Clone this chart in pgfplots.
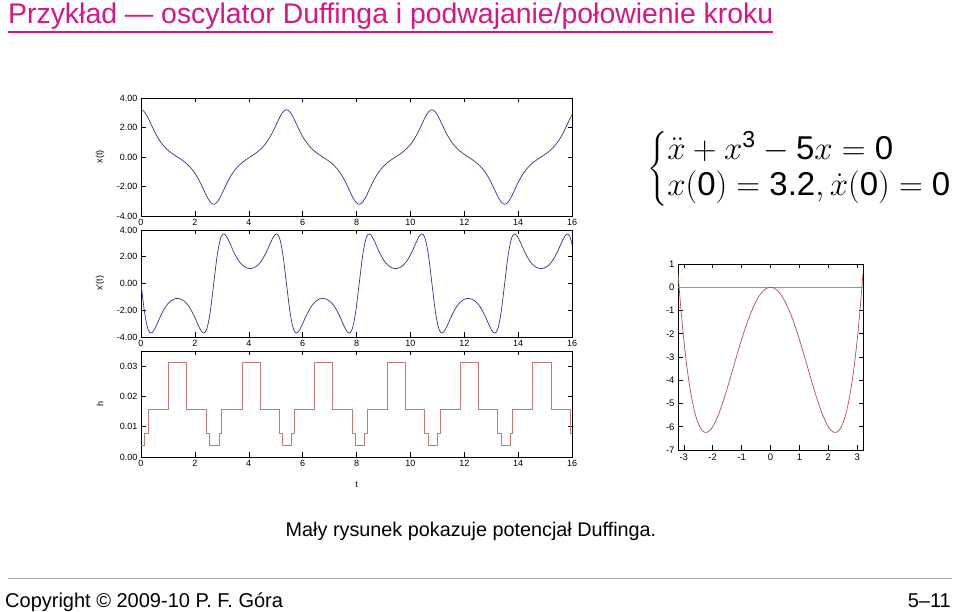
\RequirePackage{fix-cm}
\documentclass[border=0pt]{standalone}
\usepackage{amsmath}
\usepackage{fontspec}
\setmainfont{Liberation Sans}
\usepackage{pgfplots}
\usepackage{pgfplotstable}
\pgfplotsset{compat=1.18}

\definecolor{titlemag}{RGB}{214,22,134}
\definecolor{xblue}{RGB}{50,50,160}
\definecolor{hred}{RGB}{200,120,120}
\definecolor{vred}{RGB}{180,80,80}
\definecolor{vgreen}{RGB}{80,200,80}

\pgfplotstableread{
t x v
0.000 3.200 0.00
0.050 3.179 -0.84
0.105 3.100 -1.76
0.151 3.000 -2.39
0.219 2.800 -3.11
0.276 2.600 -3.49
0.328 2.400 -3.67
0.379 2.200 -3.70
0.430 2.000 -3.64
0.482 1.800 -3.49
0.537 1.600 -3.28
0.598 1.400 -3.02
0.663 1.200 -2.72
0.736 1.000 -2.39
0.821 0.800 -2.06
0.920 0.600 -1.72
1.041 0.400 -1.42
1.186 0.200 -1.20
1.350 0.000 -1.11
1.514 -0.200 -1.20
1.659 -0.400 -1.42
1.780 -0.600 -1.72
1.879 -0.800 -2.06
1.964 -1.000 -2.39
2.037 -1.200 -2.72
2.102 -1.400 -3.02
2.163 -1.600 -3.28
2.218 -1.800 -3.49
2.270 -2.000 -3.64
2.321 -2.200 -3.70
2.372 -2.400 -3.67
2.424 -2.600 -3.49
2.481 -2.800 -3.11
2.549 -3.000 -2.39
2.595 -3.100 -1.76
2.650 -3.179 -0.84
2.700 -3.200 0.00
2.750 -3.179 0.84
2.805 -3.100 1.76
2.851 -3.000 2.39
2.919 -2.800 3.11
2.976 -2.600 3.49
3.028 -2.400 3.67
3.079 -2.200 3.70
3.130 -2.000 3.64
3.182 -1.800 3.49
3.237 -1.600 3.28
3.298 -1.400 3.02
3.363 -1.200 2.72
3.436 -1.000 2.39
3.521 -0.800 2.06
3.620 -0.600 1.72
3.741 -0.400 1.42
3.886 -0.200 1.20
4.050 0.000 1.11
4.214 0.200 1.20
4.359 0.400 1.42
4.480 0.600 1.72
4.579 0.800 2.06
4.664 1.000 2.39
4.737 1.200 2.72
4.802 1.400 3.02
4.863 1.600 3.28
4.918 1.800 3.49
4.970 2.000 3.64
5.021 2.200 3.70
5.072 2.400 3.67
5.124 2.600 3.49
5.181 2.800 3.11
5.249 3.000 2.39
5.295 3.100 1.76
5.350 3.179 0.84
5.400 3.200 0.00
5.450 3.179 -0.84
5.505 3.100 -1.76
5.551 3.000 -2.39
5.619 2.800 -3.11
5.676 2.600 -3.49
5.728 2.400 -3.67
5.779 2.200 -3.70
5.830 2.000 -3.64
5.882 1.800 -3.49
5.937 1.600 -3.28
5.998 1.400 -3.02
6.063 1.200 -2.72
6.136 1.000 -2.39
6.221 0.800 -2.06
6.320 0.600 -1.72
6.441 0.400 -1.42
6.586 0.200 -1.20
6.750 0.000 -1.11
6.914 -0.200 -1.20
7.059 -0.400 -1.42
7.180 -0.600 -1.72
7.279 -0.800 -2.06
7.364 -1.000 -2.39
7.437 -1.200 -2.72
7.502 -1.400 -3.02
7.563 -1.600 -3.28
7.618 -1.800 -3.49
7.670 -2.000 -3.64
7.721 -2.200 -3.70
7.772 -2.400 -3.67
7.824 -2.600 -3.49
7.881 -2.800 -3.11
7.949 -3.000 -2.39
7.995 -3.100 -1.76
8.050 -3.179 -0.84
8.100 -3.200 0.00
8.150 -3.179 0.84
8.205 -3.100 1.76
8.251 -3.000 2.39
8.319 -2.800 3.11
8.376 -2.600 3.49
8.428 -2.400 3.67
8.479 -2.200 3.70
8.530 -2.000 3.64
8.582 -1.800 3.49
8.637 -1.600 3.28
8.698 -1.400 3.02
8.763 -1.200 2.72
8.836 -1.000 2.39
8.921 -0.800 2.06
9.020 -0.600 1.72
9.141 -0.400 1.42
9.286 -0.200 1.20
9.450 0.000 1.11
9.614 0.200 1.20
9.759 0.400 1.42
9.880 0.600 1.72
9.979 0.800 2.06
10.064 1.000 2.39
10.137 1.200 2.72
10.202 1.400 3.02
10.263 1.600 3.28
10.318 1.800 3.49
10.370 2.000 3.64
10.421 2.200 3.70
10.472 2.400 3.67
10.524 2.600 3.49
10.581 2.800 3.11
10.649 3.000 2.39
10.695 3.100 1.76
10.750 3.179 0.84
10.800 3.200 0.00
10.850 3.179 -0.84
10.905 3.100 -1.76
10.951 3.000 -2.39
11.019 2.800 -3.11
11.076 2.600 -3.49
11.128 2.400 -3.67
11.179 2.200 -3.70
11.230 2.000 -3.64
11.282 1.800 -3.49
11.337 1.600 -3.28
11.398 1.400 -3.02
11.463 1.200 -2.72
11.536 1.000 -2.39
11.621 0.800 -2.06
11.720 0.600 -1.72
11.841 0.400 -1.42
11.986 0.200 -1.20
12.150 0.000 -1.11
12.314 -0.200 -1.20
12.459 -0.400 -1.42
12.580 -0.600 -1.72
12.679 -0.800 -2.06
12.764 -1.000 -2.39
12.837 -1.200 -2.72
12.902 -1.400 -3.02
12.963 -1.600 -3.28
13.018 -1.800 -3.49
13.070 -2.000 -3.64
13.121 -2.200 -3.70
13.172 -2.400 -3.67
13.224 -2.600 -3.49
13.281 -2.800 -3.11
13.349 -3.000 -2.39
13.395 -3.100 -1.76
13.450 -3.179 -0.84
13.500 -3.200 0.00
13.550 -3.179 0.84
13.605 -3.100 1.76
13.651 -3.000 2.39
13.719 -2.800 3.11
13.776 -2.600 3.49
13.828 -2.400 3.67
13.879 -2.200 3.70
13.930 -2.000 3.64
13.982 -1.800 3.49
14.037 -1.600 3.28
14.098 -1.400 3.02
14.163 -1.200 2.72
14.236 -1.000 2.39
14.321 -0.800 2.06
14.420 -0.600 1.72
14.541 -0.400 1.42
14.686 -0.200 1.20
14.850 0.000 1.11
15.014 0.200 1.20
15.159 0.400 1.42
15.280 0.600 1.72
15.379 0.800 2.06
15.464 1.000 2.39
15.537 1.200 2.72
15.602 1.400 3.02
15.663 1.600 3.28
15.718 1.800 3.49
15.770 2.000 3.64
15.821 2.200 3.70
15.872 2.400 3.67
15.924 2.600 3.49
15.981 2.800 3.11
16.049 3.000 2.39
}\duffing

\pgfplotstableread{
t h
0.00 0.00390625
0.14 0.0078125
0.27 0.015625
1.03 0.03125
1.70 0.015625
2.44 0.0078125
2.55 0.00390625
2.90 0.0078125
2.99 0.015625
3.75 0.03125
4.42 0.015625
5.12 0.0078125
5.23 0.00390625
5.57 0.0078125
5.68 0.015625
6.45 0.03125
7.12 0.015625
7.83 0.0078125
7.96 0.00390625
8.29 0.0078125
8.40 0.015625
9.14 0.03125
9.81 0.015625
10.53 0.0078125
10.65 0.00390625
10.99 0.0078125
11.10 0.015625
11.84 0.03125
12.54 0.015625
13.24 0.0078125
13.36 0.00390625
13.70 0.0078125
13.80 0.015625
14.54 0.03125
15.23 0.015625
15.92 0.0078125
16.00 0.0078125
}\steps

\pgfplotstableread{
x V
-3.2 0.614
-3.1 -0.937
-3.0 -2.250
-2.9 -3.343
-2.8 -4.234
-2.7 -4.939
-2.6 -5.476
-2.5 -5.859
-2.4 -6.106
-2.3 -6.229
-2.2 -6.244
-2.1 -6.163
-2.0 -6.000
-1.9 -5.767
-1.8 -5.476
-1.7 -5.137
-1.6 -4.762
-1.5 -4.359
-1.4 -3.940
-1.3 -3.511
-1.2 -3.082
-1.1 -2.659
-1.0 -2.250
-0.9 -1.861
-0.8 -1.498
-0.7 -1.165
-0.6 -0.868
-0.5 -0.609
-0.4 -0.394
-0.3 -0.223
-0.2 -0.100
-0.1 -0.025
0.0 0.000
0.1 -0.025
0.2 -0.100
0.3 -0.223
0.4 -0.394
0.5 -0.609
0.6 -0.868
0.7 -1.165
0.8 -1.498
0.9 -1.861
1.0 -2.250
1.1 -2.659
1.2 -3.082
1.3 -3.511
1.4 -3.940
1.5 -4.359
1.6 -4.762
1.7 -5.137
1.8 -5.476
1.9 -5.767
2.0 -6.000
2.1 -6.163
2.2 -6.244
2.3 -6.229
2.4 -6.106
2.5 -5.859
2.6 -5.476
2.7 -4.939
2.8 -4.234
2.9 -3.343
3.0 -2.250
3.1 -0.937
3.2 0.614
}\potential

\pgfplotsset{
  gp/.style={
    scale only axis,
    /pgf/number format/assume math mode=true,
    tick align=inside,
    major tick length=4.5pt,
    tick style={black, line width=0.5pt},
    axis line style={black, line width=0.6pt},
    tick label style={font=\fontsize{9}{10}\selectfont},
    label style={font=\fontsize{9}{10}\selectfont},
    xtick pos=both, ytick pos=both,
    xticklabel pos=lower, yticklabel pos=left,
  },
  tplot/.style={
    gp,
    width=431pt,
    xmin=0, xmax=16,
    xtick={0,2,...,16},
    yticklabel style={/pgf/number format/.cd, fixed, fixed zerofill, precision=2},
    ylabel style={at={(axis description cs:-0.095,0.5)}, anchor=center},
  },
}

\begin{document}
\begin{tikzpicture}
\useasboundingbox (0pt,0pt) rectangle (960pt,612pt);

% title
\node[anchor=base west, inner sep=0pt, text=titlemag, font=\fontsize{28.4}{33}\selectfont] at (8pt,588pt) {Przykład — oscylator Duffinga i podwajanie/połowienie kroku};
\draw[titlemag, line width=1.2pt] (8pt,580pt) -- (773pt,580pt);

% x(t)
\begin{axis}[tplot, at={(141pt,396pt)}, anchor=south west, height=118pt,
  ymin=-4, ymax=4, ytick={-4,-2,0,2,4}, ylabel={x(t)}]
\addplot[xblue, line width=0.7pt, smooth] table[x=t, y=x]{\duffing};
\end{axis}

% x'(t)
\begin{axis}[tplot, at={(141pt,275pt)}, anchor=south west, height=107pt,
  ymin=-4, ymax=4, ytick={-4,-2,0,2,4}, ylabel={x'(t)}]
\addplot[xblue, line width=0.7pt, smooth] table[x=t, y=v]{\duffing};
\end{axis}

% h(t)
\begin{axis}[tplot, at={(141pt,155pt)}, anchor=south west, height=106pt,
  ymin=0, ymax=0.035, ytick={0,0.01,0.02,0.03},
  scaled y ticks=false,
  ylabel={h}, xlabel={t},
  xlabel style={at={(axis description cs:0.5,-0.26)}, anchor=center}]
\addplot[hred, line width=0.7pt, const plot] table[x=t, y=h]{\steps};
\end{axis}

% potential
\begin{axis}[gp, at={(678pt,162pt)}, anchor=south west, width=185pt, height=186pt,
  xmin=-3.2, xmax=3.2, ymin=-7, ymax=1,
  xtick={-3,-2,-1,0,1,2,3}, ytick={-7,-6,-5,-4,-3,-2,-1,0,1},
  tick label style={font=\fontsize{9.5}{11}\selectfont}]
\addplot[vgreen, line width=1pt] coordinates {(-3.2,0) (3.2,0)};
\addplot[vred, line width=0.7pt, smooth] table[x=x, y=V]{\potential};
\end{axis}

% equation
\node[anchor=west, inner sep=0pt, font=\fontsize{33}{40}\selectfont] at (647pt,443pt)
 {\renewcommand{\arraystretch}{0.92}$\left\{\begin{array}{@{}l@{}}
   \ddot{x} + x^{\text{3}} - \text{5}x = \text{0}\\
   x(\text{0}) = \text{3.2}, \dot{x}(\text{0}) = \text{0}
  \end{array}\right.$};

% caption
\node[anchor=base, inner sep=0pt, font=\fontsize{19.8}{23}\selectfont] at (471pt,75pt) {Mały rysunek pokazuje potencjał Duffinga.};

% footer
\draw[gray!70, line width=0.8pt] (8pt,34pt) -- (952pt,34pt);
\node[anchor=base west, inner sep=0pt, font=\fontsize{20}{24}\selectfont] at (5pt,4pt) {Copyright \textcopyright{} 2009-10 P. F. Góra};
\node[anchor=base east, inner sep=0pt, font=\fontsize{20}{24}\selectfont] at (951pt,4pt) {5–11};
\end{tikzpicture}
\end{document}
